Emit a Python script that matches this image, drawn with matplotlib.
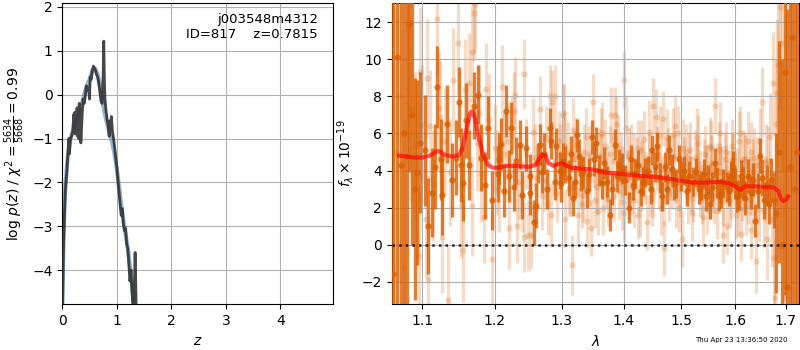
import matplotlib
matplotlib.use("Agg")
import matplotlib.pyplot as plt
import matplotlib.ticker as mticker
import numpy as np

# ---------------- Left panel: log p(z) ----------------
z_pdf = [0.005, 0.02, 0.04, 0.06, 0.08, 0.10, 0.12, 0.13, 0.15, 0.17, 0.19, 0.21, 0.22,
         0.23, 0.24, 0.25, 0.26, 0.27, 0.28, 0.29, 0.30, 0.31, 0.32, 0.33, 0.34, 0.36,
         0.38, 0.40, 0.42, 0.44, 0.46, 0.48, 0.50, 0.51, 0.53, 0.55, 0.57, 0.59, 0.61,
         0.63, 0.65, 0.67, 0.69, 0.71, 0.73, 0.75, 0.76, 0.77, 0.78, 0.80, 0.82, 0.84,
         0.86, 0.87, 0.88, 0.90, 0.92, 0.94, 0.96, 0.98, 1.00, 1.02, 1.04, 1.06, 1.08,
         1.10, 1.12, 1.14, 1.16, 1.18, 1.20, 1.22, 1.24, 1.26, 1.28, 1.30, 1.32, 1.335,
         1.345, 1.36]
logp = [-4.8, -3.6, -2.7, -2.1, -1.8, -1.4, -1.0, -1.35, -1.0, -0.95, -0.85, -0.45, -0.85,
        -0.4, -0.9, -0.55, -0.85, -0.3, -0.95, -0.6, -1.0, -0.2, -0.9, -0.5, -1.1, -0.55,
        -0.1, -0.2, -0.05, 0.2, 0.1, 0.15, -0.1, 0.4, 0.35, 0.55, 0.65, 0.6, 0.55,
        0.45, 0.4, 0.25, 0.05, -0.15, -0.2, 0.5, 1.22, 0.4, -0.05, -0.35, -0.55, -0.7,
        -0.95, -0.6, -0.8, -0.5, -0.85, -1.0, -1.2, -1.45, -1.65, -1.95, -2.2, -2.5, -2.75,
        -2.6, -2.95, -3.1, -3.05, -3.4, -3.5, -3.85, -4.25, -4.0, -4.55, -4.9, -4.5, -3.6,
        -4.2, -5.2]

z_smooth = [0.0, 0.02, 0.05, 0.10, 0.15, 0.20, 0.25, 0.30, 0.35, 0.40, 0.45, 0.50, 0.55,
            0.60, 0.65, 0.70, 0.75, 0.80, 0.85, 0.90, 0.95, 1.00, 1.05, 1.10, 1.15, 1.20,
            1.25, 1.30, 1.33]
logp_smooth = [-4.8, -3.3, -2.2, -1.4, -1.0, -0.8, -0.6, -0.45, -0.25, 0.0, 0.2, 0.35, 0.55,
               0.6, 0.45, 0.15, -0.25, -0.55, -0.8, -1.0, -1.3, -1.7, -2.2, -2.7, -3.1, -3.5,
               -4.0, -4.6, -5.0]

# ---------------- Right panel: spectrum ----------------
lam_d = [1.062, 1.067, 1.073, 1.077, 1.080, 1.083, 1.087, 1.090, 1.093, 1.097, 1.104, 1.108,
         1.113, 1.117, 1.120, 1.125, 1.127, 1.133, 1.140, 1.145, 1.149, 1.153, 1.155, 1.160,
         1.163, 1.171, 1.176, 1.181, 1.186, 1.190, 1.196, 1.204, 1.209, 1.216, 1.221, 1.223,
         1.228, 1.237, 1.240, 1.251, 1.252, 1.257, 1.261, 1.266, 1.270, 1.273, 1.282, 1.284,
         1.289, 1.297, 1.302, 1.311, 1.318, 1.324, 1.327, 1.334, 1.340, 1.348, 1.351, 1.355,
         1.364, 1.372, 1.377, 1.386, 1.389, 1.398, 1.409, 1.416, 1.425, 1.433, 1.442, 1.449,
         1.457, 1.466, 1.471, 1.478, 1.487, 1.496, 1.500, 1.510, 1.521, 1.527, 1.537, 1.545,
         1.553, 1.562, 1.570, 1.578, 1.585, 1.592, 1.597, 1.603, 1.612, 1.620, 1.625, 1.631,
         1.639, 1.649, 1.657, 1.663, 1.670, 1.676, 1.681, 1.687, 1.693, 1.698, 1.703, 1.709,
         1.713, 1.719, 1.724]
flux_d = [-1.6, 10.1, 4.3, 6.0, 4.8, 11.9, 7.0, 3.0, 3.9, 5.5, 5.1, 1.0,
          2.8, 4.2, 8.5, 4.6, 2.7, 6.5, 3.5, 4.7, 7.7, 4.3, 3.3, 6.7,
          4.3, 7.5, 8.1, 4.7, 3.2, 6.3, 2.4, 3.8, 5.45, 7.2, 3.7, 6.3,
          3.1, 5.4, 2.7, 3.7, 2.8, 1.2, 2.1, 5.4, 3.9, 4.9, 6.3, 5.6,
          3.4, 4.0, 4.5, 3.6, 2.5, 5.9, 4.8, 3.9, 2.9, 5.8, 4.6, 5.5,
          3.3, 3.4, 1.6, 5.4, 3.7, 4.1, 2.0, 3.2, 4.3, 3.4, 4.0, 5.1,
          5.3, 2.6, 4.2, 5.1, 3.2, 4.6, 3.7, 2.9, 3.4, 3.9, 3.2, 2.6,
          2.2, 4.4, 2.6, 3.3, 3.1, 3.7, 4.2, 2.6, 3.7, 2.5, 3.7, 2.8,
          1.3, 4.8, 2.4, 3.2, 3.5, 2.4, 1.7, 5.0, 0.0, 9.3, -2.3, 4.2,
          11.2, 3.0, 5.0]
err_d = [15, 14, 12, 10, 9, 8, 7, 6, 5, 3.8, 3.0, 2.6,
         2.4, 2.3, 2.2, 2.2, 2.2, 2.1, 2.0, 2.0, 1.9, 2.0, 2.0, 2.0,
         1.9, 1.8, 1.6, 1.8, 1.8, 1.7, 1.6, 1.5, 1.4, 1.4, 1.4, 1.4,
         1.3, 1.3, 1.3, 1.2, 1.2, 1.2, 1.2, 1.1, 1.1, 1.1, 1.1, 1.0,
         1.0, 1.0, 1.0, 0.95, 0.95, 0.9, 0.9, 0.9, 0.9, 0.9, 0.9, 0.85,
         0.85, 0.85, 0.85, 0.85, 0.85, 0.85, 0.85, 0.8, 0.8, 0.8, 0.8, 0.8,
         0.8, 0.8, 0.8, 0.8, 0.8, 0.8, 0.8, 0.8, 0.8, 0.8, 0.8, 0.8,
         0.8, 0.8, 0.8, 0.8, 0.8, 0.8, 0.85, 0.85, 0.85, 0.9, 0.9, 0.9,
         0.9, 0.95, 1.0, 1.1, 1.2, 1.5, 4.3, 6.0, 10, 12, 15, 15,
         15, 15, 15]

# additional primary points filling the middle of the spectrum
lam_d2 = [1.206, 1.213, 1.231, 1.246, 1.264, 1.278, 1.292, 1.299, 1.306, 1.315, 1.321, 1.330,
          1.344, 1.359, 1.368, 1.381, 1.393, 1.403, 1.412, 1.420, 1.429, 1.437, 1.446, 1.453,
          1.462, 1.475, 1.483, 1.491, 1.505, 1.515, 1.532, 1.541, 1.549, 1.557, 1.566, 1.574,
          1.588, 1.600, 1.608, 1.616, 1.635, 1.644, 1.653, 1.666]
flux_d2 = [4.6, 2.9, 4.5, 5.2, 4.4, 3.0, 5.3, 3.3, 4.3, 4.9, 3.4, 3.8,
           3.8, 4.0, 4.4, 3.0, 4.3, 3.5, 4.6, 3.8, 2.9, 3.9, 3.0, 4.2,
           3.6, 3.0, 4.1, 3.3, 4.0, 3.7, 3.0, 3.8, 3.5, 3.1, 3.4, 2.8,
           2.9, 3.3, 2.7, 3.3, 3.5, 2.9, 3.6, 2.2]
err_d2 = [1.4, 1.4, 1.3, 1.2, 1.1, 1.1, 1.0, 1.0, 1.0, 0.95, 0.9, 0.9,
          0.9, 0.85, 0.85, 0.85, 0.85, 0.8, 0.8, 0.8, 0.8, 0.8, 0.8, 0.8,
          0.8, 0.8, 0.8, 0.8, 0.8, 0.8, 0.8, 0.8, 0.8, 0.8, 0.8, 0.8,
          0.8, 0.85, 0.85, 0.9, 0.9, 0.95, 1.0, 1.1]

lam_l = [1.064, 1.070, 1.077, 1.082, 1.086, 1.090, 1.096, 1.097, 1.100, 1.105, 1.106, 1.108,
         1.111, 1.115, 1.120, 1.122, 1.124, 1.126, 1.130, 1.134, 1.137, 1.142, 1.148, 1.152,
         1.155, 1.158, 1.163, 1.167, 1.167, 1.170, 1.172, 1.175, 1.178, 1.181, 1.184, 1.188,
         1.192, 1.196, 1.200, 1.206, 1.210, 1.214, 1.220, 1.225, 1.228, 1.230, 1.232, 1.236,
         1.243, 1.243, 1.246, 1.248, 1.253, 1.256, 1.262, 1.266, 1.270, 1.276, 1.279, 1.282,
         1.284, 1.285, 1.290, 1.293, 1.298, 1.302, 1.304, 1.305, 1.310, 1.316, 1.320, 1.326,
         1.330, 1.336, 1.340, 1.346, 1.350, 1.356, 1.360, 1.366, 1.370, 1.375, 1.380, 1.385,
         1.388, 1.392, 1.395, 1.400, 1.401, 1.406, 1.412, 1.418, 1.422, 1.428, 1.434, 1.440,
         1.445, 1.450, 1.455, 1.460, 1.464, 1.468, 1.470, 1.475, 1.480, 1.485, 1.490, 1.495,
         1.502, 1.506, 1.512, 1.516, 1.520, 1.525, 1.530, 1.535, 1.540, 1.544, 1.548, 1.552,
         1.556, 1.563, 1.566, 1.570, 1.575, 1.578, 1.581, 1.585, 1.590, 1.594, 1.600, 1.605,
         1.610, 1.612, 1.616, 1.621, 1.626, 1.630, 1.634, 1.640, 1.644, 1.648, 1.652, 1.656,
         1.660, 1.663, 1.668, 1.672, 1.674, 1.676, 1.678, 1.680, 1.683, 1.685, 1.688, 1.693,
         1.697]
flux_l = [5.0, 8.0, -1.2, 11.6, 7.3, 5.3, -0.6, 9.3, 6.5, 1.4, 9.0, -1.9,
          6.4, 3.2, 12.2, 7.4, 6.9, 0.4, 5.6, -3.0, 3.9, 8.9, 10.9, 2.1,
          -0.3, 8.4, 8.7, 10.4, 2.1, 12.5, 13.0, 5.5, 7.1, 3.8, 1.5, 8.4,
          6.7, -0.75, 5.2, 3.0, 8.5, 4.9, 0.9, 5.9, 7.2, 8.1, 1.0, 3.4,
          9.2, 0.4, 4.9, 0.5, 0.5, 6.1, 3.6, 7.3, 2.6, 5.8, 2.2, 8.0,
          1.6, 7.7, 8.0, 2.8, 4.9, 7.0, 7.1, 1.4, 5.0, -1.1, 4.6, 1.6,
          3.4, 5.0, 1.3, 0.9, 7.7, 3.1, 4.8, 2.0, 5.3, 2.5, 7.0, 7.0,
          6.5, 2.9, 4.6, 8.9, 1.7, 3.6, 5.0, 2.4, 4.3, 1.9, 5.7, 1.2,
          3.0, 7.5, 6.9, 3.5, 2.0, 6.8, -0.2, 5.8, 3.9, 5.9, 2.4, 6.0,
          0.3, 4.3, 2.6, 5.1, 1.7, 4.7, 5.5, 3.0, 1.5, 4.9, 3.9, 2.9,
          4.4, 7.5, 1.8, 5.1, 3.8, 0.5, 4.6, 1.0, 2.4, 5.3, 3.4, 1.9,
          6.0, 0.6, 4.6, 2.1, 5.6, 0.8, 4.0, -0.9, 2.9, 5.6, 7.7, 1.8,
          4.4, 0.3, 5.8, 1.4, 8.7, -0.7, -2.9, 6.5, 8.2, 9.7, 12.8, 10.9,
          -2.9]
err_l = [14, 10, 8, 6, 5, 4, 3.5, 3.5, 3.2, 3.2, 3.2, 3.2,
         3.0, 3.0, 3.0, 3.0, 3.0, 3.0, 2.9, 2.9, 2.9, 2.8, 2.8, 2.8,
         2.8, 2.7, 2.7, 2.7, 2.7, 2.6, 2.6, 2.6, 2.6, 2.6, 2.5, 2.5,
         2.5, 2.5, 2.4, 2.3, 2.3, 2.2, 2.2, 2.1, 2.1, 2.0, 2.0, 2.0,
         1.9, 1.9, 1.9, 1.9, 1.8, 1.8, 1.8, 1.8, 1.8, 1.7, 1.7, 1.7,
         1.7, 1.7, 1.7, 1.6, 1.6, 1.6, 1.6, 1.6, 1.6, 1.6, 1.6, 1.5,
         1.5, 1.5, 1.5, 1.5, 1.5, 1.5, 1.5, 1.5, 1.5, 1.5, 1.5, 1.5,
         1.5, 1.5, 1.5, 1.5, 1.5, 1.5, 1.5, 1.5, 1.5, 1.5, 1.5, 1.5,
         1.5, 1.5, 1.5, 1.5, 1.5, 1.5, 1.5, 1.5, 1.5, 1.5, 1.5, 1.5,
         1.5, 1.5, 1.5, 1.5, 1.5, 1.5, 1.5, 1.5, 1.5, 1.5, 1.5, 1.5,
         1.5, 1.5, 1.5, 1.5, 1.5, 1.5, 1.5, 1.5, 1.5, 1.5, 1.5, 1.5,
         1.5, 1.5, 1.6, 1.6, 1.6, 1.6, 1.7, 1.7, 1.8, 1.8, 1.9, 2.0,
         2.1, 2.2, 2.4, 2.6, 2.8, 3.0, 3.2, 3.5, 4.0, 4.5, 5.5, 7.0,
         9.0]

# additional secondary points in the crowded middle band
lam_l2 = [1.203, 1.218, 1.239, 1.259, 1.273, 1.288, 1.296, 1.313, 1.323, 1.333, 1.343, 1.353,
          1.363, 1.373, 1.383, 1.397, 1.409, 1.415, 1.425, 1.431, 1.443, 1.448, 1.458, 1.466,
          1.473, 1.478, 1.488, 1.498, 1.509, 1.518, 1.528, 1.538, 1.546, 1.554, 1.560, 1.572,
          1.583, 1.592, 1.597, 1.603, 1.614, 1.619, 1.628, 1.637, 1.646, 1.658, 1.665]
flux_l2 = [3.9, 5.6, 2.6, 4.7, 3.5, 4.4, 5.6, 3.1, 5.4, 2.7, 4.9, 2.4,
           5.9, 3.8, 4.5, 2.3, 4.8, 3.1, 5.2, 4.1, 4.6, 2.5, 4.9, 3.3,
           4.3, 2.8, 4.7, 3.0, 5.0, 3.3, 4.1, 2.6, 3.9, 5.2, 2.6, 4.0,
           3.9, 2.9, 4.6, 3.7, 2.8, 4.3, 3.2, 4.7, 1.9, 3.0, 4.5]
err_l2 = [2.3, 2.1, 1.9, 1.8, 1.7, 1.7, 1.6, 1.6, 1.5, 1.5, 1.5, 1.5,
          1.5, 1.5, 1.5, 1.5, 1.5, 1.5, 1.5, 1.5, 1.5, 1.5, 1.5, 1.5,
          1.5, 1.5, 1.5, 1.5, 1.5, 1.5, 1.5, 1.5, 1.5, 1.5, 1.5, 1.5,
          1.5, 1.5, 1.5, 1.5, 1.5, 1.6, 1.6, 1.6, 1.7, 1.8, 1.9]

lam_l3 = [1.305, 1.312, 1.318, 1.326, 1.332, 1.338, 1.345, 1.352, 1.358, 1.365, 1.371, 1.378,
          1.384, 1.390, 1.397, 1.404, 1.410, 1.417, 1.424, 1.430, 1.437, 1.444, 1.451, 1.457,
          1.463, 1.470, 1.477, 1.483, 1.489, 1.496, 1.503, 1.509, 1.515, 1.522, 1.528, 1.534,
          1.541, 1.547, 1.553, 1.559, 1.565, 1.571, 1.577, 1.583, 1.589, 1.595, 1.601, 1.607,
          1.613, 1.619, 1.625, 1.631, 1.637, 1.643]
flux_l3 = [5.3, 3.0, 6.2, 4.1, 2.2, 5.8, 3.5, 4.6, 1.8, 6.0, 3.3, 4.9,
           2.6, 5.4, 3.9, 6.3, 2.7, 4.5, 1.6, 5.1, 3.6, 6.1, 2.8, 4.4,
           5.9, 2.3, 4.8, 3.3, 6.4, 2.0, 5.2, 3.5, 4.6, 2.5, 5.8, 3.7,
           4.2, 1.9, 5.3, 3.1, 4.0, 6.0, 2.3, 5.0, 3.7, 4.5, 1.6, 5.6,
           3.2, 4.6, 2.4, 5.0, 3.0, 4.3]
err_l3 = [1.6, 1.4, 1.7, 1.5, 1.3, 1.6, 1.4, 1.5, 1.3, 1.7, 1.4, 1.5,
          1.3, 1.6, 1.4, 1.7, 1.3, 1.5, 1.3, 1.6, 1.4, 1.7, 1.3, 1.5,
          1.6, 1.3, 1.5, 1.4, 1.7, 1.3, 1.6, 1.4, 1.5, 1.3, 1.6, 1.4,
          1.5, 1.3, 1.6, 1.4, 1.5, 1.7, 1.3, 1.6, 1.4, 1.5, 1.3, 1.6,
          1.4, 1.5, 1.3, 1.6, 1.4, 1.5]

lam_model = [1.07, 1.08, 1.09, 1.10, 1.11, 1.12, 1.125, 1.13, 1.14, 1.15, 1.155, 1.16,
             1.165, 1.168, 1.172, 1.177, 1.183, 1.19, 1.197, 1.205, 1.215, 1.23, 1.25,
             1.26, 1.265, 1.27, 1.275, 1.28, 1.287, 1.295, 1.30, 1.305, 1.315, 1.33, 1.35,
             1.37, 1.40, 1.43, 1.46, 1.48, 1.50, 1.52, 1.55, 1.57, 1.59, 1.60, 1.61, 1.62,
             1.64, 1.66, 1.675, 1.685, 1.69, 1.695, 1.70, 1.705]
flux_model = [4.8, 4.75, 4.7, 4.7, 4.8, 5.05, 5.0, 4.85, 4.75, 4.85, 5.3, 6.2,
              7.1, 7.2, 6.8, 5.8, 4.9, 4.3, 4.15, 4.15, 4.25, 4.25, 4.2,
              4.3, 4.6, 4.85, 4.8, 4.4, 4.25, 4.35, 4.4, 4.3, 4.15, 4.1, 4.05,
              3.9, 3.8, 3.7, 3.65, 3.55, 3.45, 3.35, 3.35, 3.4, 3.3, 3.15, 2.95, 3.15,
              3.15, 3.1, 3.1, 2.9, 2.5, 2.35, 2.4, 2.6]

lam_ticks = [1.1, 1.2, 1.3, 1.4, 1.5, 1.6, 1.7]
lam_ticklabels = ['1.1', '1.2', '1.3', '1.4', '1.5', '1.6', '1.7']

ORANGE = '#d95f02'

fig = plt.figure(figsize=(8, 3.5), dpi=100)
ax1 = fig.add_axes([0.0779, 0.1306, 0.3387, 0.8608])
ax2 = fig.add_axes([0.4896, 0.1306, 0.5095, 0.8608])

# Left panel
ax1.plot(z_smooth, logp_smooth, color='steelblue', alpha=0.6, lw=3, zorder=2)
ax1.plot(z_pdf, logp, color='0.2', alpha=0.9, lw=2, zorder=3)
ax1.set_xlim(0, 4.97)
ax1.set_ylim(-4.78, 2.09)
ax1.set_xticks([0, 1, 2, 3, 4])
ax1.set_yticks([-4, -3, -2, -1, 0, 1, 2])
ax1.grid(True)
ax1.set_xlabel(r'$z$')
ax1.set_ylabel(r'log $p(z)$ / $\chi^2=\frac{5634}{5668}=0.99$')
ax1.text(0.943, 0.968, 'j003548m4312\nID=817    z=0.7815', ha='right', va='top',
         transform=ax1.transAxes, fontsize=9.5)

# Right panel
ax2.set_xscale('log')
for lx, fx, ex in ((lam_l, flux_l, err_l), (lam_l2, flux_l2, err_l2), (lam_l3, flux_l3, err_l3)):
    ax2.errorbar(lx, fx, yerr=ex, fmt='o', color=ORANGE, alpha=0.22,
                 ms=4.5, elinewidth=2.4, capsize=0, mew=0, zorder=2)
for lx, fx, ex in ((lam_d, flux_d, err_d), (lam_d2, flux_d2, err_d2)):
    ax2.errorbar(lx, fx, yerr=ex, fmt='o', color=ORANGE, alpha=0.8,
                 ms=4.5, elinewidth=2.4, capsize=0, mew=0, zorder=3)
ax2.plot(lam_model, flux_model, color='red', alpha=0.65, lw=3, zorder=4)
ax2.axhline(0, color='k', ls=':', lw=1.8, alpha=0.8, zorder=5)
ax2.set_xlim(1.0606, 1.728)
ax2.set_ylim(-3.22, 13.04)
ax2.xaxis.set_major_locator(mticker.FixedLocator(lam_ticks))
ax2.xaxis.set_major_formatter(mticker.FixedFormatter(lam_ticklabels))
ax2.xaxis.set_minor_locator(mticker.NullLocator())
ax2.set_yticks([-2, 0, 2, 4, 6, 8, 10, 12])
ax2.set_axisbelow(False)
ax2.grid(True)
ax2.set_xlabel(r'$\lambda$')
ax2.set_ylabel(r'$f_\lambda\times10^{-19}$')

fig.text(0.984, 0.02, 'Thu Apr 23 13:36:50 2020', ha='right', va='bottom', fontsize=5)

fig.savefig('out.png', dpi=100)
